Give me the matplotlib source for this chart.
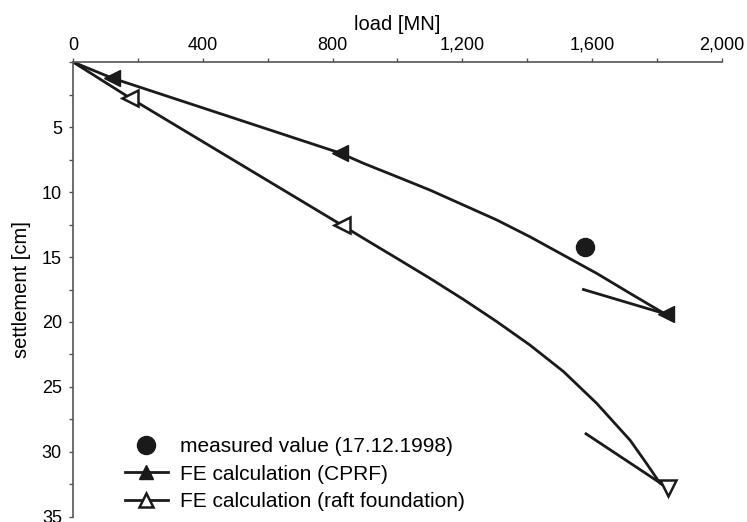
import matplotlib
matplotlib.use("Agg")
import matplotlib.pyplot as plt
from matplotlib.ticker import MultipleLocator, FuncFormatter

plt.rcParams['font.family'] = ['Liberation Sans', 'DejaVu Sans']

# values
# CPRF curve (load in MN, settlement in cm)
cprf_load = [0, 120, 823, 895, 998, 1100, 1203, 1306, 1408, 1511, 1614,
             1717, 1778, 1819, 1829]
cprf_settle = [0, 1.23, 7.0, 7.79, 8.82, 9.85, 11.0, 12.15, 13.44, 14.85,
               16.26, 17.8, 18.7, 19.3, 19.4]
cprf_mark_load = [120, 823, 1829]
cprf_mark_settle = [1.23, 7.0, 19.4]
cprf_tail_load = [1573, 1829]
cprf_tail_settle = [17.5, 19.4]

# raft foundation curve
raft_load = [0, 176, 828, 895, 998, 1100, 1203, 1306, 1408, 1511, 1614,
             1717, 1768, 1809, 1835]
raft_settle = [0, 2.77, 12.54, 13.56, 15.1, 16.64, 18.26, 19.97, 21.77,
               23.8, 26.26, 29.1, 30.9, 32.4, 32.8]
raft_mark_load = [176, 828, 1835]
raft_mark_settle = [2.77, 12.54, 32.8]
raft_mark_shape = ['<', '<', 'v']
raft_tail_load = [1581, 1835]
raft_tail_settle = [28.6, 32.8]

# measured value
meas_load = [1578]
meas_settle = [14.2]

labels = ["measured value (17.12.1998)",
          "FE calculation (CPRF)",
          "FE calculation (raft foundation)"]

fig = plt.figure(figsize=(7.47, 5.22), dpi=100)
ax = fig.add_axes([0.0977, 0.0096, 0.8688, 0.8716])

ink = "#1a1a1a"
lw = 2.0
ax.plot(cprf_load, cprf_settle, color=ink, lw=lw, solid_joinstyle="round")
ax.plot(cprf_tail_load, cprf_tail_settle, color=ink, lw=lw)
ax.plot(cprf_mark_load, cprf_mark_settle, linestyle="none", marker="<",
        ms=11, color=ink)

ax.plot(raft_load, raft_settle, color=ink, lw=lw, solid_joinstyle="round")
ax.plot(raft_tail_load, raft_tail_settle, color=ink, lw=lw)
for xl, yl, m in zip(raft_mark_load, raft_mark_settle, raft_mark_shape):
    ax.plot([xl], [yl], linestyle="none", marker=m, ms=11, mfc="white",
            mec=ink, mew=1.8)

ax.plot(meas_load, meas_settle, linestyle="none", marker="o", ms=13,
        color=ink)

# legend handles
h1, = ax.plot([], [], linestyle="none", marker="o", ms=13, color=ink)
h2, = ax.plot([], [], color=ink, lw=lw, marker="^", ms=10)
h3, = ax.plot([], [], color=ink, lw=lw, marker="^", ms=10,
              mfc="white", mew=1.8)
ax.legend([h1, h2, h3], labels, loc="upper left",
          bbox_to_anchor=(0.080, 0.175), frameon=False, fontsize=15,
          borderpad=0, borderaxespad=0, handlelength=2.07,
          handletextpad=0.58, labelspacing=0.4)

ax.set_xlim(0, 2000)
ax.set_ylim(35, 0)
ax.xaxis.tick_top()
ax.xaxis.set_label_position("top")
ax.xaxis.set_major_locator(MultipleLocator(400))
ax.xaxis.set_minor_locator(MultipleLocator(200))
ax.xaxis.set_major_formatter(FuncFormatter(lambda v, p: f"{int(v):,}"))
ax.yaxis.set_minor_locator(MultipleLocator(2.5))
ax.set_yticks([5, 10, 15, 20, 25, 30, 35])
ax.tick_params(which="both", length=3, width=1, color="#555555",
               labelsize=13, pad=3)
ax.tick_params(axis="y", pad=5)
ax.tick_params(axis="x", which="both", top=True, bottom=False)

ax.set_xlabel("load [MN]", fontsize=14.5, labelpad=5)
ax.set_ylabel("settlement [cm]", fontsize=14.5, labelpad=8)

ax.spines["right"].set_visible(False)
ax.spines["bottom"].set_visible(False)
for s in ("top", "left"):
    ax.spines[s].set_color("#555555")
    ax.spines[s].set_linewidth(1.2)

fig.savefig("out.png", dpi=100)
